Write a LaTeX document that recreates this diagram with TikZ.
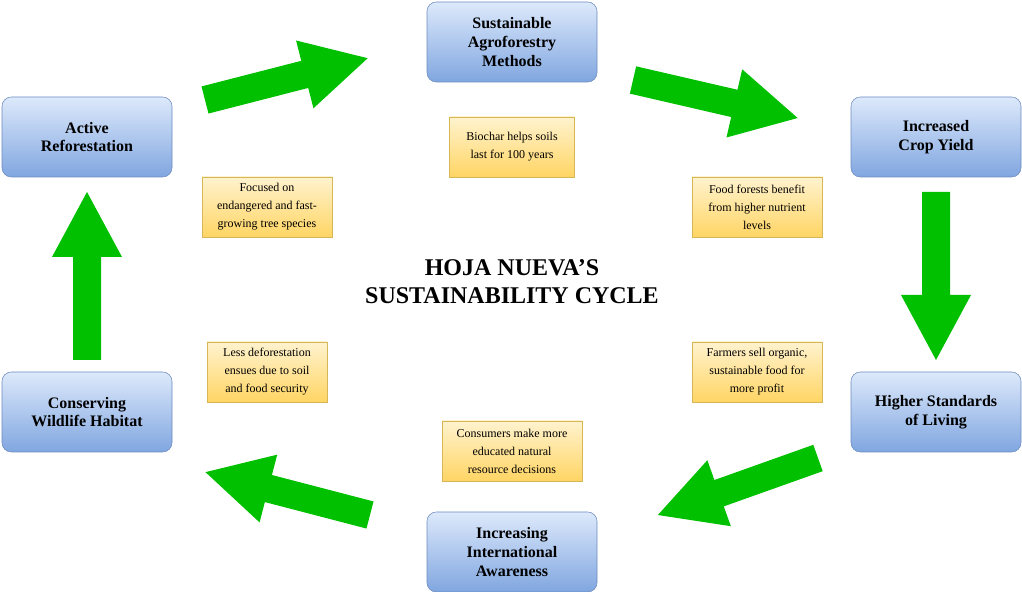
\documentclass[tikz,border=0pt]{standalone}
\usepackage{fontspec}
\setmainfont{Liberation Serif}
\usetikzlibrary{positioning}
\usetikzlibrary{calc}

\definecolor{boxtop}{RGB}{221,233,251}
\definecolor{boxbot}{RGB}{128,166,224}
\definecolor{boxline}{RGB}{108,138,190}
\definecolor{notetop}{RGB}{255,243,206}
\definecolor{notebot}{RGB}{255,213,100}
\definecolor{noteline}{RGB}{214,182,86}
\definecolor{arrowgreen}{RGB}{0,192,0}

% block arrow: tail point, angle, length
\newcommand{\bigarrow}[3]{%
  \fill[arrowgreen, shift={#1}, rotate=#2]
    (0,-14) -- (#3-65,-14) -- (#3-65,-35) -- (#3,0) -- (#3-65,35)
    -- (#3-65,14) -- (0,14) -- cycle;}

\begin{document}
\begin{tikzpicture}
  [x=0.75pt, y=0.75pt,
   stage/.style = {rectangle, rounded corners=7pt, draw=boxline,
     top color=boxtop, bottom color=boxbot, minimum width=127.5pt,
     minimum height=60pt, align=center, font=\fontsize{12}{14}\selectfont\bfseries},
   note/.style = {rectangle, draw=noteline, top color=notetop,
     bottom color=notebot, minimum height=45pt, inner sep=2pt,
     align=center, font=\fontsize{9}{13.5}\selectfont}]
  \useasboundingbox (0,0) rectangle (1022,592);

  \node (agro) [stage] at (512,550) {Sustainable\\Agroforestry\\Methods};
  \node (crop) [stage] at (936,455) {Increased\\Crop Yield};
  \node (living) [stage] at (936,180) {Higher Standards\\of Living};
  \node (aware) [stage] at (512,40) {Increasing\\International\\Awareness};
  \node (habitat) [stage] at (87,180) {Conserving\\Wildlife Habitat};
  \node (refor) [stage] at (87,455) {Active\\Reforestation};

  \node (biochar) [note, minimum width=93.75pt] at (512,445) {Biochar helps soils\\last for 100 years};
  \node (species) [note, minimum width=97.5pt] at (267,385) {Focused on\\endangered and fast-\\growing tree species};
  \node (forests) [note, minimum width=97.5pt] at (757,385) {Food forests benefit\\from higher nutrient\\levels};
  \node (profit) [note, minimum width=97.5pt] at (757,220) {Farmers sell organic,\\sustainable food for\\more profit};
  \node (consumers) [note, minimum width=105pt] at (512,141) {Consumers make more\\educated natural\\resource decisions};
  \node (defor) [note, minimum width=90pt] at (267,220) {Less deforestation\\ensues due to soil\\and food security};

  \node (title) [align=center, font=\fontsize{18}{21}\selectfont\bfseries]
    at (512,310) {HOJA NUEVA'S\\SUSTAINABILITY CYCLE};

  \bigarrow{(205,492)}{14.4}{168}
  \bigarrow{(633,512)}{-13}{169}
  \bigarrow{(936,400)}{-90}{168}
  \bigarrow{(818,134)}{199.6}{170}
  \bigarrow{(370,77)}{165.4}{170}
  \bigarrow{(87,232)}{90}{168}
\end{tikzpicture}
\end{document}
